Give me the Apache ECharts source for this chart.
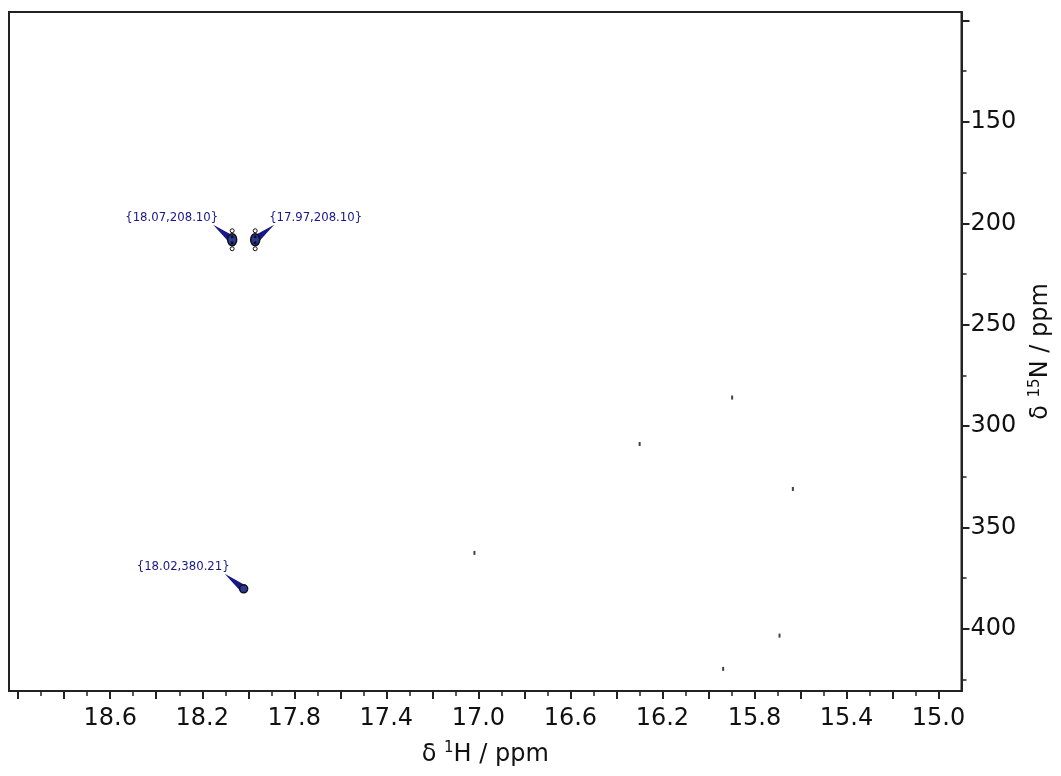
<!DOCTYPE html>
<html>
<head>
<meta charset="utf-8">
<script src="https://cdn.jsdelivr.net/npm/echarts@6/dist/echarts.min.js"></script>
<style>
html,body{margin:0;padding:0;background:#fff;}
#chart{width:1061px;height:776px;}
</style>
</head>
<body>
<div id="chart"></div>
<script>
// ---- data ----
const peakH = [18.07, 17.97, 18.02];
const peakN = [208.10, 208.10, 380.21];
const peakLabels = ['{18.07,208.10}', '{17.97,208.10}', '{18.02,380.21}'];
const weakH = [15.897, 16.299, 15.633, 15.691, 15.936, 17.017];
const weakN = [285.9, 308.8, 331.0, 403.3, 419.7, 362.5];
const xLabelTicks = [18.6, 18.2, 17.8, 17.4, 17.0, 16.6, 16.2, 15.8, 15.4, 15.0];
const xMajorTicks = [19.0, 18.8, 18.6, 18.4, 18.2, 18.0, 17.8, 17.6, 17.4, 17.2, 17.0, 16.8, 16.6, 16.4, 16.2, 16.0, 15.8, 15.6, 15.4, 15.2, 15.0];
const xMinorTicks = [18.9, 18.7, 18.5, 18.3, 18.1, 17.9, 17.7, 17.5, 17.3, 17.1, 16.9, 16.7, 16.5, 16.3, 16.1, 15.9, 15.7, 15.5, 15.3, 15.1];
const yLabelTicks = [150, 200, 250, 300, 350, 400];
const yMajorTicks = [100, 150, 200, 250, 300, 350, 400];
const yMinorTicks = [125, 175, 225, 275, 325, 375, 425];
const xRange = [14.9, 19.04];
const yRange = [95.8, 430.6];

// ---- style ----
const labelSide = [-1, 1, -1];
const FONT = 'DejaVu Sans';
const AXIS_COLOR = '#222';
const NAVY = '#17178a';

const chart = echarts.init(document.getElementById('chart'), null, {renderer: 'canvas'});

function baseX(extra) {
  return Object.assign({
    type: 'value', inverse: true, min: xRange[0], max: xRange[1],
    position: 'bottom', splitLine: {show: false},
    axisLine: {show: true, onZero: false, lineStyle: {color: AXIS_COLOR, width: 2}}
  }, extra);
}
function baseY(extra) {
  return Object.assign({
    type: 'value', inverse: true, min: yRange[0], max: yRange[1],
    position: 'right', splitLine: {show: false},
    axisLine: {show: true, onZero: false, lineStyle: {color: AXIS_COLOR, width: 2}}
  }, extra);
}

const option = {
  backgroundColor: '#fff',
  animation: false,
  grid: {left: 9, right: 97, top: 12, bottom: 85, show: true, borderColor: AXIS_COLOR, borderWidth: 2, backgroundColor: '#fff'},
  xAxis: [
    baseX({
      name: 'δ {sup|1}H / ppm', nameLocation: 'middle', nameGap: 50,
      nameTextStyle: {fontFamily: FONT, fontSize: 24, color: '#111',
        rich: {sup: {fontFamily: FONT, fontSize: 15, color: '#111', padding: [0, 0, 12, 0]}}},
      axisTick: {show: true, customValues: xMajorTicks, length: 8, lineStyle: {color: AXIS_COLOR, width: 2}},
      axisLabel: {show: true, customValues: xLabelTicks, margin: 16, fontFamily: FONT, fontSize: 24, color: '#111',
        formatter: v => v.toFixed(1)}
    }),
    baseX({
      axisLine: {show: false},
      axisTick: {show: true, customValues: xMinorTicks, length: 5, lineStyle: {color: AXIS_COLOR, width: 1.5}},
      axisLabel: {show: false}
    })
  ],
  yAxis: [
    baseY({
      name: 'δ {sup|15}N / ppm', nameLocation: 'middle', nameGap: 66, nameRotate: 90,
      nameTextStyle: {fontFamily: FONT, fontSize: 24, color: '#111',
        rich: {sup: {fontFamily: FONT, fontSize: 15, color: '#111', padding: [0, 0, 12, 0]}}},
      axisTick: {show: true, customValues: yMajorTicks, length: 8, lineStyle: {color: AXIS_COLOR, width: 2}},
      axisLabel: {show: true, customValues: yLabelTicks, margin: 9, fontFamily: FONT, fontSize: 24, color: '#111'}
    }),
    baseY({
      axisLine: {show: false},
      axisTick: {show: true, customValues: yMinorTicks, length: 5, lineStyle: {color: AXIS_COLOR, width: 1.5}},
      axisLabel: {show: false}
    })
  ],
  series: [
    {
      type: 'scatter', xAxisIndex: 0, yAxisIndex: 0,
      data: weakH.map((h, i) => [h, weakN[i]]),
      symbol: 'rect', symbolSize: [2, 4],
      itemStyle: {color: '#111'}, silent: true
    },
    {
      type: 'custom', xAxisIndex: 0, yAxisIndex: 0, silent: true,
      data: peakH.map((h, i) => [h, peakN[i], i]),
      renderItem: function (params, api) {
        const i = api.value(2);
        const p = api.coord([api.value(0), api.value(1)]);
        const side = labelSide[i];
        const doublet = i < 2;
        const children = [];
        const ax = p[0] + side * 19, ay = p[1] - 15;
        const dx = p[0] - ax, dy = p[1] - ay;
        const len = Math.sqrt(dx * dx + dy * dy);
        const nx = -dy / len * 4, ny = dx / len * 4;
        children.push({type: 'polygon', shape: {points: [[ax, ay], [p[0] + nx, p[1] + ny], [p[0] - nx, p[1] - ny]]},
          style: {fill: NAVY}});
        if (doublet) {
          children.push({type: 'circle', shape: {cx: p[0], cy: p[1] - 9, r: 2}, style: {fill: '#fff', stroke: '#111', lineWidth: 1}});
          children.push({type: 'circle', shape: {cx: p[0], cy: p[1] + 9, r: 2}, style: {fill: '#fff', stroke: '#111', lineWidth: 1}});
          children.push({type: 'ellipse', shape: {cx: p[0], cy: p[1], rx: 4.5, ry: 6}, style: {fill: '#2a3a9a', stroke: '#111', lineWidth: 1.5}});
          children.push({type: 'circle', shape: {cx: p[0], cy: p[1] - 3, r: 1.5}, style: {fill: '#111'}});
          children.push({type: 'circle', shape: {cx: p[0], cy: p[1] + 3, r: 1.5}, style: {fill: '#111'}});
        } else {
          children.push({type: 'circle', shape: {cx: p[0], cy: p[1], r: 4}, style: {fill: '#2a3a9a', stroke: '#111', lineWidth: 1.5}});
        }
        children.push({type: 'text', style: {
          x: p[0] + side * 14, y: p[1] - 22,
          text: peakLabels[i], fill: NAVY,
          font: '13px "DejaVu Sans Condensed"',
          align: side < 0 ? 'right' : 'left', verticalAlign: 'middle'
        }});
        return {type: 'group', children: children};
      }
    }
  ]
};
chart.setOption(option);
</script>
</body>
</html>
